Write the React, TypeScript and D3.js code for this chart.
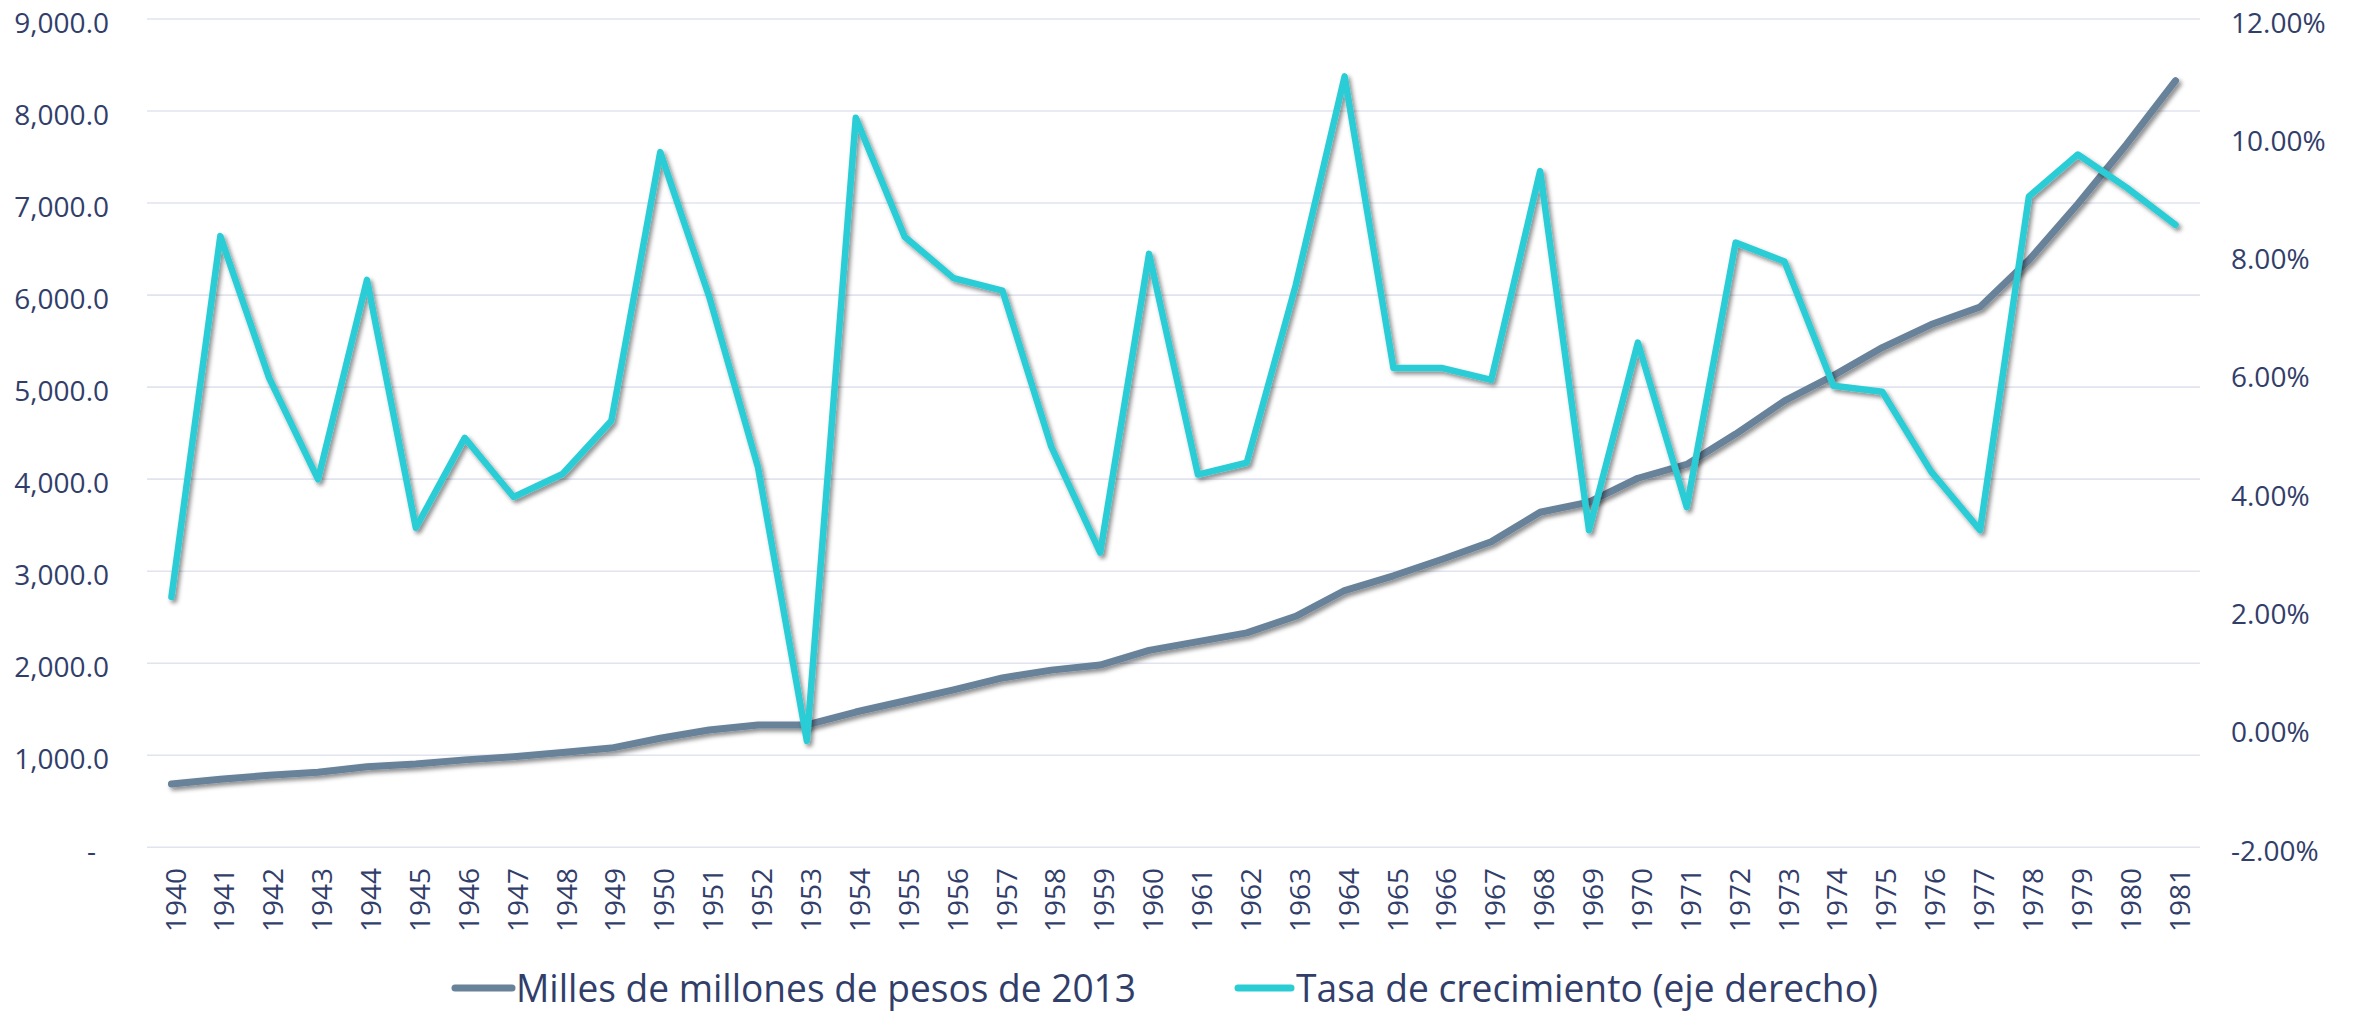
import { useEffect, useRef } from "react";
import * as d3 from "d3";

const years = d3.range(1940, 1982).map(String);

// Milles de millones de pesos de 2013 (eje izquierdo)
const pib = [
  688, 740, 783, 815, 875, 905, 950, 985, 1030, 1078,
  1185, 1275, 1330, 1330, 1470, 1590, 1710, 1840, 1925, 1980,
  2140, 2235, 2330, 2510, 2790, 2950, 3130, 3320, 3640, 3750,
  4010, 4160, 4490, 4850, 5125, 5430, 5680, 5870, 6380, 6990,
  7640, 8330,
];

// Tasa de crecimiento, % (eje derecho)
const tasa = [
  2.23, 8.33, 5.93, 4.22, 7.59, 3.4, 4.92, 3.92, 4.31, 5.21,
  9.75, 7.31, 4.42, -0.2, 10.33, 8.32, 7.62, 7.41, 4.77, 2.98,
  8.03, 4.3, 4.5, 7.5, 11.03, 6.1, 6.1, 5.9, 9.43, 3.36,
  6.53, 3.75, 8.22, 7.9, 5.8, 5.7, 4.35, 3.36, 9.0, 9.71,
  9.15, 8.52,
];

const leftTicks = d3.range(0, 9001, 1000);
const rightTicks = d3.range(-2, 12.01, 2);

const legendItems = [
  { label: "Milles de millones de pesos de 2013", color: "#68829a", x0: 455, x1: 512, tx: 516, tw: 620 },
  { label: "Tasa de crecimiento (eje derecho)", color: "#2bcdd5", x0: 1238, x1: 1291, tx: 1296, tw: 582 },
];

const W = 2354;
const H = 1015;
const TEXT = "#323e6a";
const GRID = "#e1e4ef";
const FONT = "'Open Sans', sans-serif";

export default function App() {
  const ref = useRef<SVGSVGElement | null>(null);

  useEffect(() => {
    const svg = d3.select(ref.current);
    svg.selectAll("*").remove();

    const left = 147;
    const right = 2200;
    const top = 19;
    const bottom = 847.3;

    const x = d3.scaleBand<string>().domain(years).range([left, right]).padding(0);
    const cx = (y: string) => (x(y) as number) + x.bandwidth() / 2;
    const yL = d3.scaleLinear().domain([0, 9000]).range([bottom, top]);
    const yR = d3.scaleLinear().domain([-2, 12]).range([bottom, top]);

    const defs = svg.append("defs");
    const f = defs
      .append("filter")
      .attr("id", "shadow")
      .attr("x", "-5%")
      .attr("y", "-5%")
      .attr("width", "110%")
      .attr("height", "110%");
    f.append("feDropShadow")
      .attr("dx", 2.5)
      .attr("dy", 3)
      .attr("stdDeviation", 2)
      .attr("flood-color", "#000")
      .attr("flood-opacity", 0.45);

    // grid
    svg
      .append("g")
      .selectAll("line")
      .data(leftTicks)
      .join("line")
      .attr("x1", left)
      .attr("x2", right)
      .attr("y1", (d) => yL(d))
      .attr("y2", (d) => yL(d))
      .attr("stroke", GRID)
      .attr("stroke-width", 1.6);

    // left axis labels
    svg
      .append("g")
      .selectAll("text")
      .data(leftTicks)
      .join("text")
      .attr("x", (d) => (d === 0 ? 96 : 109))
      .attr("y", (d) => yL(d) + 13.5)
      .attr("text-anchor", "end")
      .attr("font-family", FONT)
      .attr("font-size", 28)
      .attr("fill", TEXT)
      .text((d) => (d === 0 ? "-" : d3.format(",.1f")(d)));

    // right axis labels
    svg
      .append("g")
      .selectAll("text")
      .data(rightTicks)
      .join("text")
      .attr("x", 2231)
      .attr("y", (d) => yR(d) + 13.5)
      .attr("text-anchor", "start")
      .attr("font-family", FONT)
      .attr("font-size", 28)
      .attr("fill", TEXT)
      .text((d) => d.toFixed(2) + "%");

    // x labels
    svg
      .append("g")
      .selectAll("text")
      .data(years)
      .join("text")
      .attr("transform", (d) => `translate(${cx(d) + 4},868) rotate(-90)`)
      .attr("text-anchor", "end")
      .attr("dy", "0.36em")
      .attr("font-family", FONT)
      .attr("font-size", 28)
      .attr("fill", TEXT)
      .text((d) => d);

    const lineL = d3
      .line<number>()
      .x((_, i) => cx(years[i]))
      .y((d) => yL(d));
    const lineR = d3
      .line<number>()
      .x((_, i) => cx(years[i]))
      .y((d) => yR(d));

    svg
      .append("path")
      .attr("d", lineL(pib) as string)
      .attr("fill", "none")
      .attr("stroke", "#68829a")
      .attr("stroke-width", 7)
      .attr("stroke-linejoin", "round")
      .attr("stroke-linecap", "round")
      .attr("filter", "url(#shadow)");

    svg
      .append("path")
      .attr("d", lineR(tasa) as string)
      .attr("fill", "none")
      .attr("stroke", "#2bcdd5")
      .attr("stroke-width", 6.5)
      .attr("stroke-linejoin", "round")
      .attr("stroke-linecap", "round")
      .attr("filter", "url(#shadow)");

    // legend
    const lg = svg.append("g");
    legendItems.forEach((it) => {
      lg.append("line")
        .attr("x1", it.x0)
        .attr("x2", it.x1)
        .attr("y1", 988)
        .attr("y2", 988)
        .attr("stroke", it.color)
        .attr("stroke-width", 7)
        .attr("stroke-linecap", "round");
      lg.append("text")
        .attr("x", it.tx)
        .attr("y", 1002)
        .attr("font-family", FONT)
        .attr("font-size", 38)
        .attr("fill", TEXT)
        .attr("textLength", it.tw)
        .attr("lengthAdjust", "spacingAndGlyphs")
        .text(it.label);
    });
  }, []);

  return (
    <svg
      ref={ref}
      width={W}
      height={H}
      style={{ position: "absolute", left: 0, top: 0, background: "#fff" }}
    />
  );
}
